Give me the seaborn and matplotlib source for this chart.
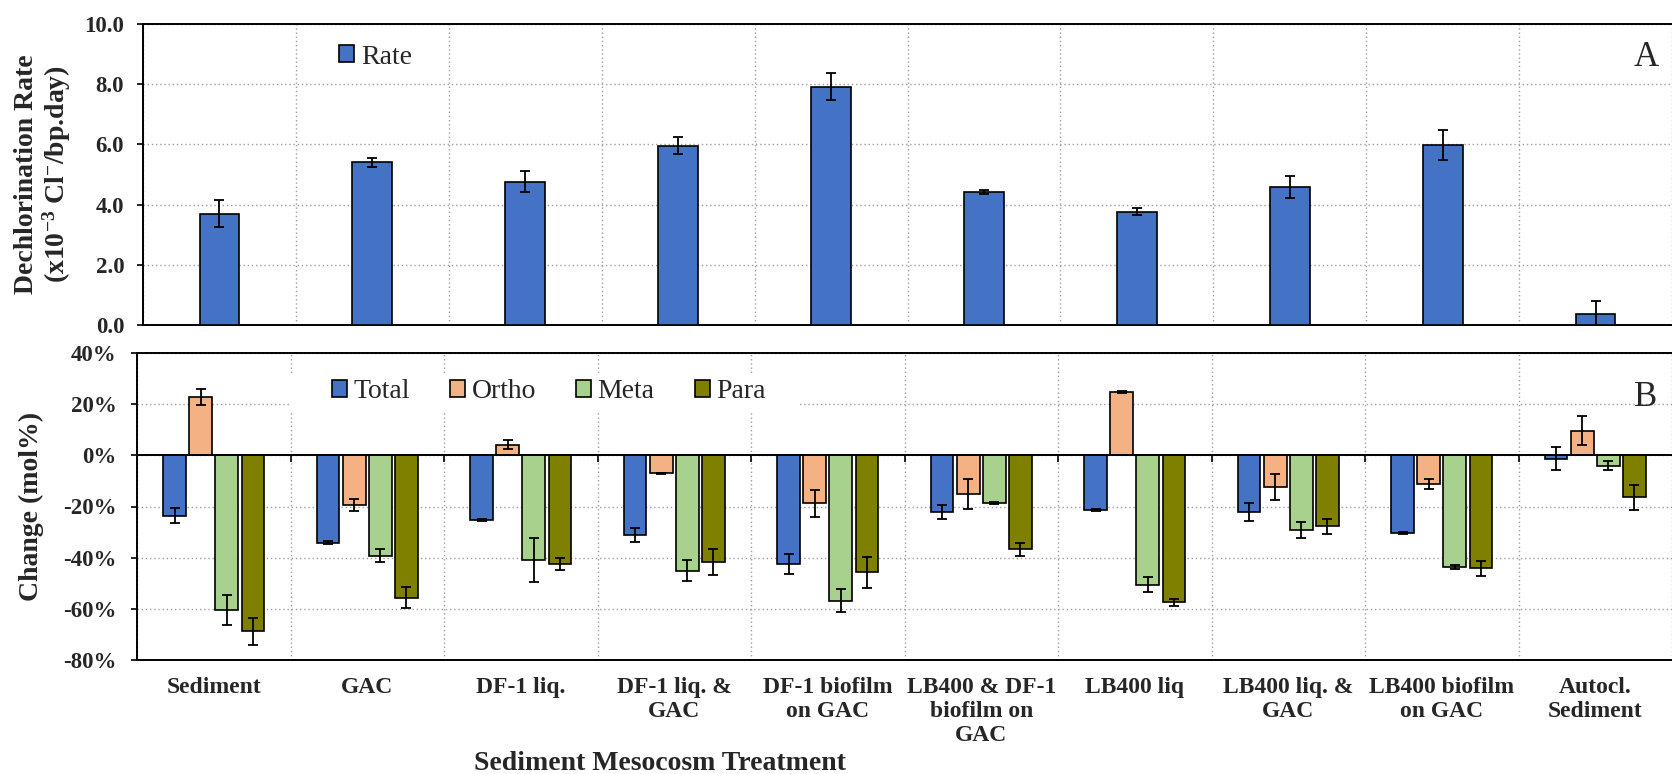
import numpy as np
import pandas as pd
import matplotlib
matplotlib.use("Agg")
import matplotlib.pyplot as plt
from matplotlib.patches import Patch, Rectangle
import seaborn as sns

# ---- data -------------------------------------------------------------
treatments = ["Sediment", "GAC", "DF-1 liq.", "DF-1 liq. &\nGAC", "DF-1 biofilm\non GAC",
              "LB400 & DF-1\nbiofilm on\nGAC", "LB400 liq", "LB400 liq. &\nGAC",
              "LB400 biofilm\non GAC", "Autocl.\nSediment"]

# dechlorination rate (x10^-3 Cl-/bp.day)
rate = [3.70, 5.40, 4.76, 5.96, 7.92, 4.42, 3.77, 4.58, 5.97, 0.36]
rate_err = [0.46, 0.14, 0.35, 0.27, 0.45, 0.08, 0.13, 0.36, 0.50, 0.45]

# change in mol% by chlorine position
groups = ["Total", "Ortho", "Meta", "Para"]
total = [-23.6, -34.2, -25.3, -31.2, -42.5, -22.1, -21.4, -22.1, -30.4, -1.3]
total_err = [2.9, 0.6, 0.3, 2.8, 3.8, 2.8, 0.5, 3.4, 0.4, 4.5]
ortho = [22.7, -19.5, 4.2, -7.1, -18.7, -15.2, 24.8, -12.3, -11.2, 9.7]
ortho_err = [3.2, 2.4, 1.6, 0.3, 5.3, 5.8, 0.3, 5.0, 2.1, 5.8]
meta = [-60.4, -39.2, -40.9, -45.1, -56.8, -18.7, -50.6, -29.2, -43.5, -4.0]
meta_err = [6.0, 2.6, 8.7, 4.2, 4.5, 0.5, 2.9, 3.3, 0.8, 1.9]
para = [-68.8, -55.6, -42.5, -41.7, -45.7, -36.8, -57.4, -27.7, -44.2, -16.4]
para_err = [5.3, 4.2, 2.5, 4.9, 6.0, 2.4, 1.3, 3.0, 2.8, 4.8]

rate_ticks = [0, 2, 4, 6, 8, 10]
change_ticks = [-80, -60, -40, -20, 0, 20, 40]

BLUE = "#4472C4"
palette = {"Total": BLUE, "Ortho": "#F4B183", "Meta": "#A9D18E", "Para": "#7F7F00"}
GRID = "#9E9E9E"

# ---- style ------------------------------------------------------------
sns.set_theme(style="white")
plt.rcParams["font.family"] = ["Liberation Serif", "DejaVu Serif"]
plt.rcParams["mathtext.fontset"] = "custom"
plt.rcParams["mathtext.rm"] = "Liberation Serif"
plt.rcParams["mathtext.bf"] = "Liberation Serif:bold"
plt.rcParams["mathtext.default"] = "bf"

W, H = 1672, 774
fig = plt.figure(figsize=(W / 100, H / 100), dpi=100)
LA, LB = 143, 137
axA = fig.add_axes([LA / W, 1 - 325 / H, 1 - LA / W, 301 / H])
axB = fig.add_axes([LB / W, 1 - 660 / H, 1 - LB / W, 307 / H])

# ---- panel A: dechlorination rate ------------------------------------
rate_df = pd.DataFrame({"treatment": treatments, "rate": rate})
sns.barplot(data=rate_df, x="treatment", y="rate", order=treatments, color=BLUE,
            saturation=1, width=0.26, edgecolor="black", linewidth=1.2,
            errorbar=None, ax=axA, zorder=3)
bars = axA.containers[0]
xs = [p.get_x() + p.get_width() / 2 for p in bars]
axA.errorbar(xs, rate, yerr=rate_err, fmt="none", ecolor="black",
             elinewidth=1.3, capsize=3.3, capthick=1.3, zorder=4)

# ---- panel B: change in mol% -----------------------------------------
change_df = pd.DataFrame({
    "treatment": np.tile(treatments, len(groups)),
    "group": np.repeat(groups, len(treatments)),
    "change": np.concatenate([total, ortho, meta, para]),
})
sns.barplot(data=change_df, x="treatment", y="change", hue="group", order=treatments,
            hue_order=groups, palette=palette, saturation=1, width=0.68, gap=0.13,
            edgecolor="black", linewidth=1.2, errorbar=None, ax=axB, zorder=3)
for cont, vals, errs in zip(axB.containers, [total, ortho, meta, para],
                            [total_err, ortho_err, meta_err, para_err]):
    cx = [p.get_x() + p.get_width() / 2 for p in cont]
    axB.errorbar(cx, vals, yerr=errs, fmt="none", ecolor="black",
                 elinewidth=1.3, capsize=3.3, capthick=1.3, zorder=4)
axB.axhline(0, color="black", lw=1.4, zorder=3.5)
# category tick marks on the zero line
axB.vlines(np.arange(0.5, len(treatments) - 0.5, 1), -2.7, 0, colors="black", lw=1.2, zorder=3.5)

# ---- axes styling -----------------------------------------------------
for ax in (axA, axB):
    ax.set_xlim(-0.5, len(treatments) - 0.532)
    ax.set_xticks(np.arange(-0.5, len(treatments), 1), minor=True)
    ax.grid(which="minor", axis="x", color=GRID, ls=(0, (1, 2)), lw=1.0)
    ax.grid(which="major", axis="y", color=GRID, ls=(0, (1, 2)), lw=1.0)
    ax.grid(which="major", axis="x", visible=False)
    ax.set_axisbelow(True)
    ax.tick_params(which="minor", length=0)
    ax.tick_params(axis="x", which="major", length=0)
    ax.tick_params(axis="y", which="major", length=4.5, width=1.2, color="black",
                   direction="out", left=True)
    for side in ("top", "left", "bottom"):
        ax.spines[side].set_visible(True)
        ax.spines[side].set_color("black")
        ax.spines[side].set_linewidth(1.4)
    ax.spines["right"].set_visible(False)
    ax.set_xlabel("")

axA.set_ylim(0, 10)
axA.set_yticks(rate_ticks)
axA.set_yticklabels([f"{v:.1f}" for v in rate_ticks], fontsize=16.5, fontweight="bold")
axA.tick_params(axis="y", pad=9)
axA.set_xticklabels([])
axA.set_ylabel("Dechlorination Rate\n(x10$^{-3}$ Cl$^{-}$/bp.day)", fontsize=20,
               fontweight="bold", linespacing=1.05)
axA.yaxis.set_label_coords(-0.046, 0.5)

axB.set_ylim(-80, 40)
axB.set_yticks(change_ticks)
axB.set_yticklabels([f"{v:.0f}%" for v in change_ticks], fontsize=16.5, fontweight="bold")
axB.tick_params(axis="y", pad=10)
axB.set_xticklabels(treatments, fontsize=17, fontweight="bold")
axB.tick_params(axis="x", pad=12)
axB.set_ylabel("Change (mol%)", fontsize=20, fontweight="bold")
axB.yaxis.set_label_coords(-0.0605, 0.5)

# ---- legends ----------------------------------------------------------
axA.legend([Patch(facecolor=BLUE, edgecolor="black", lw=1.2)], ["Rate"],
           loc="center left", bbox_to_anchor=(339 / W, 1 - 57 / H),
           bbox_transform=fig.transFigure, frameon=False, fontsize=20,
           handlelength=0.55, handleheight=0.55, handletextpad=0.25,
           borderpad=0, borderaxespad=0)

handles, labels = axB.get_legend_handles_labels()
axB.legend(handles, labels, ncol=4, loc="center left",
           bbox_to_anchor=(332 / W, 1 - 392 / H), bbox_transform=fig.transFigure,
           frameon=False, fontsize=20, handlelength=0.55, handleheight=0.55,
           handletextpad=0.22, columnspacing=1.45, borderpad=0, borderaxespad=0)
# white backing behind the legend entries
axB.add_patch(Rectangle((289 / W, 1 - 413 / H), (800 - 289) / W, 40 / H,
                        transform=fig.transFigure, facecolor="white",
                        edgecolor="none", zorder=2))

# ---- panel letters and axis title ---------------------------------------
fig.text(1646 / W, 1 - 57 / H, "A", ha="center", va="center", fontsize=25)
fig.text(1646 / W, 1 - 398 / H, "B", ha="center", va="center", fontsize=25)
fig.text(660 / W, 1 - 763 / H, "Sediment Mesocosm Treatment", ha="center",
         va="center", fontsize=20, fontweight="bold")

fig.savefig("out.png", dpi=100)
